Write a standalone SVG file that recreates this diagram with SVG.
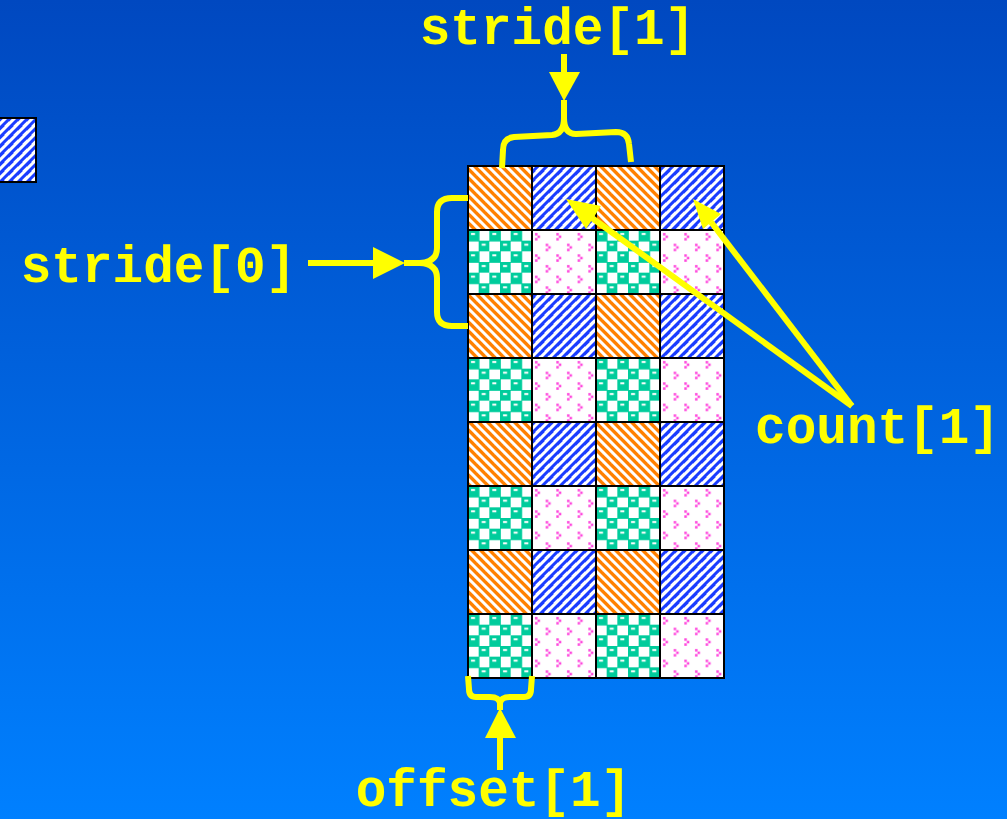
<svg xmlns="http://www.w3.org/2000/svg" width="1007" height="819" viewBox="0 0 1007 819">
<defs>
<linearGradient id="bg" x1="0" y1="0" x2="0" y2="1">
<stop offset="0" stop-color="#0048c0"/>
<stop offset="1" stop-color="#0080ff"/>
</linearGradient>
<pattern id="orange" patternUnits="userSpaceOnUse" x="0" y="0" width="9" height="9">
<rect width="9" height="9" fill="#ffffff"/>
<polygon points="0,0 4.8,0 9,4.2 9,9" fill="#ff8000"/>
<polygon points="0,4.2 4.8,9 0,9" fill="#ff8000"/>
</pattern>
<pattern id="blue" patternUnits="userSpaceOnUse" x="0" y="0" width="9" height="9">
<rect width="9" height="9" fill="#ffffff"/>
<polygon points="0,0 4.8,0 0,4.8" fill="#1a3cff"/>
<polygon points="9,0 9,4.2 4.2,9 0,9" fill="#1a3cff"/>
</pattern>
<pattern id="teal" patternUnits="userSpaceOnUse" x="468" y="166" width="21.333" height="21.333">
<rect width="21.333" height="21.333" fill="#ffffff"/>
<rect x="0" y="0" width="11.5" height="11.5" fill="#00cc9c"/>
<rect x="10.667" y="10.667" width="11.5" height="11.5" fill="#00cc9c"/>
<rect x="3" y="3" width="4" height="2" fill="#ffffff"/>
<rect x="13.7" y="13.7" width="4" height="2" fill="#ffffff"/>
</pattern>
<pattern id="pink" patternUnits="userSpaceOnUse" x="468" y="166" width="21.333" height="21.333">
<rect width="21.333" height="21.333" fill="#ffffff"/>
<g fill="#ff44dd">
<rect x="3" y="3" width="2.5" height="2.5"/><rect x="5.5" y="5.5" width="2.5" height="2.5"/><rect x="3" y="8" width="2.5" height="2.5"/>
<rect x="13.7" y="13.7" width="2.5" height="2.5"/><rect x="16.2" y="16.2" width="2.5" height="2.5"/><rect x="13.7" y="18.7" width="2.5" height="2.5"/>
</g>
</pattern>
<style>
.lbl{font-family:"Liberation Mono","DejaVu Sans Mono",monospace;font-weight:bold;font-size:51px;fill:#ffff00;text-anchor:middle}
.ln{stroke:#ffff00;stroke-width:6;fill:none;stroke-linecap:butt}
.br{stroke:#ffff00;stroke-width:6;fill:none;stroke-linejoin:round;stroke-linecap:butt}
.ah{fill:#ffff00}
.cell{stroke:#000000;stroke-width:2}
</style>
</defs>
<rect width="1007" height="819" fill="url(#bg)"/>

<g id="legend-cell">
<rect x="-28" y="118" width="64" height="64" fill="url(#blue)" class="cell"/>
</g>

<g id="grid">
<g id="row0">
<rect x="468" y="166" width="64" height="64" fill="url(#orange)" class="cell"/>
<rect x="532" y="166" width="64" height="64" fill="url(#blue)" class="cell"/>
<rect x="596" y="166" width="64" height="64" fill="url(#orange)" class="cell"/>
<rect x="660" y="166" width="64" height="64" fill="url(#blue)" class="cell"/>
</g>
<g id="row1">
<rect x="468" y="230" width="64" height="64" fill="url(#teal)" class="cell"/>
<rect x="532" y="230" width="64" height="64" fill="url(#pink)" class="cell"/>
<rect x="596" y="230" width="64" height="64" fill="url(#teal)" class="cell"/>
<rect x="660" y="230" width="64" height="64" fill="url(#pink)" class="cell"/>
</g>
<g id="row2">
<rect x="468" y="294" width="64" height="64" fill="url(#orange)" class="cell"/>
<rect x="532" y="294" width="64" height="64" fill="url(#blue)" class="cell"/>
<rect x="596" y="294" width="64" height="64" fill="url(#orange)" class="cell"/>
<rect x="660" y="294" width="64" height="64" fill="url(#blue)" class="cell"/>
</g>
<g id="row3">
<rect x="468" y="358" width="64" height="64" fill="url(#teal)" class="cell"/>
<rect x="532" y="358" width="64" height="64" fill="url(#pink)" class="cell"/>
<rect x="596" y="358" width="64" height="64" fill="url(#teal)" class="cell"/>
<rect x="660" y="358" width="64" height="64" fill="url(#pink)" class="cell"/>
</g>
<g id="row4">
<rect x="468" y="422" width="64" height="64" fill="url(#orange)" class="cell"/>
<rect x="532" y="422" width="64" height="64" fill="url(#blue)" class="cell"/>
<rect x="596" y="422" width="64" height="64" fill="url(#orange)" class="cell"/>
<rect x="660" y="422" width="64" height="64" fill="url(#blue)" class="cell"/>
</g>
<g id="row5">
<rect x="468" y="486" width="64" height="64" fill="url(#teal)" class="cell"/>
<rect x="532" y="486" width="64" height="64" fill="url(#pink)" class="cell"/>
<rect x="596" y="486" width="64" height="64" fill="url(#teal)" class="cell"/>
<rect x="660" y="486" width="64" height="64" fill="url(#pink)" class="cell"/>
</g>
<g id="row6">
<rect x="468" y="550" width="64" height="64" fill="url(#orange)" class="cell"/>
<rect x="532" y="550" width="64" height="64" fill="url(#blue)" class="cell"/>
<rect x="596" y="550" width="64" height="64" fill="url(#orange)" class="cell"/>
<rect x="660" y="550" width="64" height="64" fill="url(#blue)" class="cell"/>
</g>
<g id="row7">
<rect x="468" y="614" width="64" height="64" fill="url(#teal)" class="cell"/>
<rect x="532" y="614" width="64" height="64" fill="url(#pink)" class="cell"/>
<rect x="596" y="614" width="64" height="64" fill="url(#teal)" class="cell"/>
<rect x="660" y="614" width="64" height="64" fill="url(#pink)" class="cell"/>
</g>
</g>

<g id="connectors">
<!-- stride[1] -->
<line class="ln" x1="564" y1="54" x2="564" y2="76"/>
<polygon class="ah" points="549,72 580,72 564,101"/>
<path class="br" d="M564,100 L564,118 Q564,134 552,135 L514,137 Q503,138 503,150 L502,168"/>
<path class="br" d="M564,118 Q564,134 576,134 L616,132 Q628,132 629,144 L631,162"/>
<!-- stride[0] -->
<line class="ln" x1="308" y1="263" x2="376" y2="263"/>
<polygon class="ah" points="373,247 373,279 405,263"/>
<path class="br" d="M404,263 L420,263 Q437,262 437,248 L437,212 Q437,198 452,198 L468,198"/>
<path class="br" d="M420,263 Q437,264 437,278 L437,312 Q437,326 452,326 L468,326"/>
<!-- offset[1] -->
<line class="ln" x1="500" y1="770" x2="500" y2="735"/>
<polygon class="ah" points="485,738 516,738 500,708"/>
<path class="br" d="M500,710 L500,703 Q499,697 490,697 L476,697 Q469,697 469,689 L468,676"/>
<path class="br" d="M500,703 Q501,697 510,697 L524,697 Q531,697 531,689 L532,676"/>
<!-- count[1] -->
<line class="ln" x1="852" y1="406" x2="592" y2="218"/>
<polygon class="ah" points="566,199 601,206 586,229"/>
<line class="ln" x1="852" y1="406" x2="711" y2="222"/>
<polygon class="ah" points="693,199 721,214 703,229"/>
</g>

<g id="labels">
<text class="lbl" x="557.5" y="44">stride[1]</text>
<text class="lbl" x="158.5" y="282">stride[0]</text>
<text class="lbl" x="877.5" y="443">count[1]</text>
<text class="lbl" x="493.5" y="806">offset[1]</text>
</g>
</svg>
